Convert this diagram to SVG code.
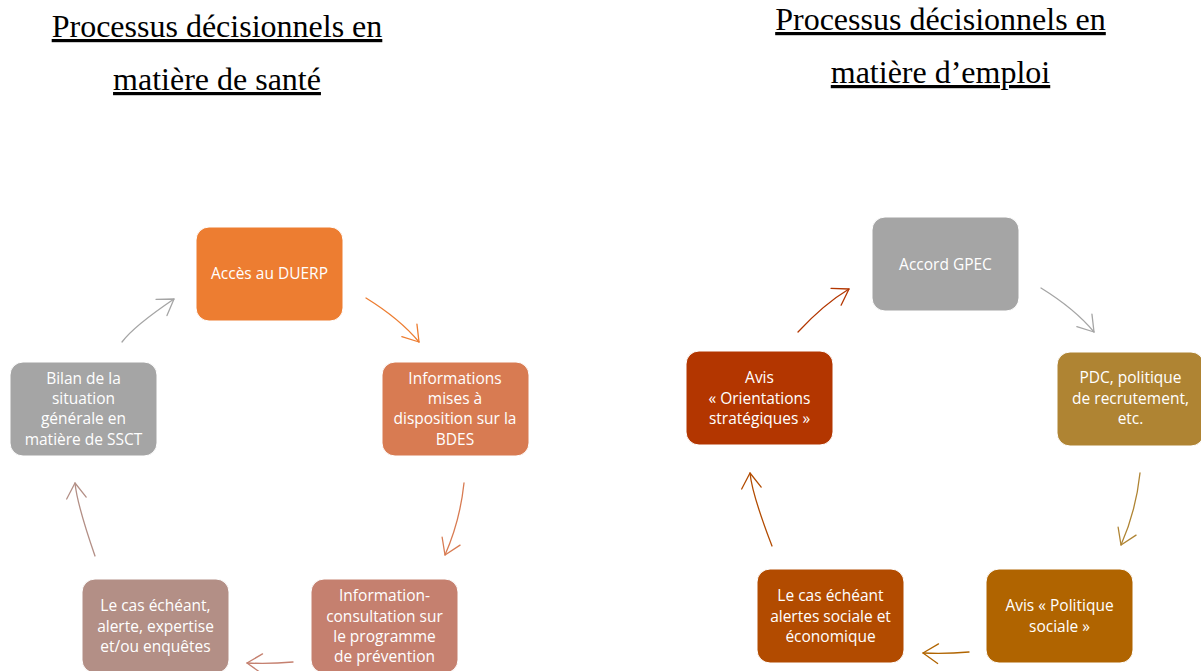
<svg xmlns="http://www.w3.org/2000/svg" width="1201" height="671" viewBox="0 0 1201 671">
<style>
.title{font-family:"Liberation Serif","Times New Roman",serif;font-size:32px;fill:#000;text-anchor:middle;text-decoration:underline}
.box{stroke:#fff;stroke-width:1}
.lbl{font-family:"Open Sans","Noto Sans",sans-serif;font-size:15.5px;fill:#fff;text-anchor:middle}
.arc{fill:none;stroke-width:1.3;stroke-linecap:round}
.head{fill:none;stroke-width:1.3;stroke-linecap:round;stroke-linejoin:round}
</style>
<defs>
<marker id="m-or" markerUnits="userSpaceOnUse" viewBox="-17 -11 19 22" refX="0" refY="0" markerWidth="19" markerHeight="22" orient="auto"><path class="head" stroke="#ED7D31" d="M-15.1,-9.8 L0,0 L-15.1,9.8"/></marker>
<marker id="m-inf" markerUnits="userSpaceOnUse" viewBox="-17 -11 19 22" refX="0" refY="0" markerWidth="19" markerHeight="22" orient="auto"><path class="head" stroke="#D87B52" d="M-15.1,-9.8 L0,0 L-15.1,9.8"/></marker>
<marker id="m-ic" markerUnits="userSpaceOnUse" viewBox="-17 -11 19 22" refX="0" refY="0" markerWidth="19" markerHeight="22" orient="auto"><path class="head" stroke="#C5806F" d="M-15.1,-9.8 L0,0 L-15.1,9.8"/></marker>
<marker id="m-lc" markerUnits="userSpaceOnUse" viewBox="-17 -11 19 22" refX="0" refY="0" markerWidth="19" markerHeight="22" orient="auto"><path class="head" stroke="#B38F86" d="M-15.1,-9.8 L0,0 L-15.1,9.8"/></marker>
<marker id="m-gr" markerUnits="userSpaceOnUse" viewBox="-17 -11 19 22" refX="0" refY="0" markerWidth="19" markerHeight="22" orient="auto"><path class="head" stroke="#A5A5A5" d="M-15.1,-9.8 L0,0 L-15.1,9.8"/></marker>
<marker id="m-pdc" markerUnits="userSpaceOnUse" viewBox="-17 -11 19 22" refX="0" refY="0" markerWidth="19" markerHeight="22" orient="auto"><path class="head" stroke="#AF8433" d="M-15.1,-9.8 L0,0 L-15.1,9.8"/></marker>
<marker id="m-pol" markerUnits="userSpaceOnUse" viewBox="-17 -11 19 22" refX="0" refY="0" markerWidth="19" markerHeight="22" orient="auto"><path class="head" stroke="#B06400" d="M-15.1,-9.8 L0,0 L-15.1,9.8"/></marker>
<marker id="m-lcr" markerUnits="userSpaceOnUse" viewBox="-17 -11 19 22" refX="0" refY="0" markerWidth="19" markerHeight="22" orient="auto"><path class="head" stroke="#B24B00" d="M-15.1,-9.8 L0,0 L-15.1,9.8"/></marker>
<marker id="m-ori" markerUnits="userSpaceOnUse" viewBox="-17 -11 19 22" refX="0" refY="0" markerWidth="19" markerHeight="22" orient="auto"><path class="head" stroke="#B33600" d="M-15.1,-9.8 L0,0 L-15.1,9.8"/></marker>
</defs>
<rect x="0" y="0" width="1201" height="671" fill="#fff"/>

<g id="titles">
<text class="title" x="217" y="37">Processus décisionnels en</text>
<text class="title" x="217" y="90">matière de santé</text>
<text class="title" x="940.5" y="30">Processus décisionnels en</text>
<text class="title" x="940.5" y="83">matière d’emploi</text>
</g>

<g id="connectors">
<path class="arc" stroke="#ED7D31" marker-end="url(#m-or)" d="M366,298 Q400,319 419,342"/>
<path class="arc" stroke="#D87B52" marker-end="url(#m-inf)" d="M464,483 Q460,521 445,555"/>
<path class="arc" stroke="#C5806F" marker-end="url(#m-ic)" d="M293,662 Q270,664 247,663"/>
<path class="arc" stroke="#B38F86" marker-end="url(#m-lc)" d="M95,556 Q77,504 75,483"/>
<path class="arc" stroke="#A5A5A5" marker-end="url(#m-gr)" d="M122,342 Q134,326 174,299"/>
<path class="arc" stroke="#A5A5A5" marker-end="url(#m-gr)" d="M1041,288 Q1075,309 1094,332"/>
<path class="arc" stroke="#AF8433" marker-end="url(#m-pdc)" d="M1140,473 Q1136,511 1121,545"/>
<path class="arc" stroke="#B06400" marker-end="url(#m-pol)" d="M969,652 Q946,654 923,653"/>
<path class="arc" stroke="#B24B00" marker-end="url(#m-lcr)" d="M772,546 Q752,494 750,473"/>
<path class="arc" stroke="#B33600" marker-end="url(#m-ori)" d="M798,332 Q824,304 849,289"/>
</g>

<g id="n-acces">
<rect class="box" x="196" y="227" width="147" height="94" rx="13" fill="#ED7D31"/>
<text class="lbl" x="269.5" y="279">Accès au DUERP</text>
</g>
<g id="n-informations">
<rect class="box" x="382" y="362" width="147" height="94" rx="13" fill="#D87B52"/>
<text class="lbl" x="455" y="383.5">Informations</text>
<text class="lbl" x="455" y="404">mises à</text>
<text class="lbl" x="455" y="424">disposition sur la</text>
<text class="lbl" x="455" y="444.5">BDES</text>
</g>
<g id="n-infoconsult">
<rect class="box" x="311" y="579" width="147" height="94" rx="13" fill="#C5806F"/>
<text class="lbl" x="384.5" y="601">Information-</text>
<text class="lbl" x="384.5" y="621.5">consultation sur</text>
<text class="lbl" x="384.5" y="641.5">le programme</text>
<text class="lbl" x="384.5" y="662">de prévention</text>
</g>
<g id="n-lecas-sante">
<rect class="box" x="82" y="579" width="147" height="94" rx="13" fill="#B38F86"/>
<text class="lbl" x="155.5" y="611">Le cas échéant,</text>
<text class="lbl" x="155.5" y="631.5">alerte, expertise</text>
<text class="lbl" x="155.5" y="652">et/ou enquêtes</text>
</g>
<g id="n-bilan">
<rect class="box" x="10" y="362" width="147" height="94" rx="13" fill="#A5A5A5"/>
<text class="lbl" x="83.5" y="383.5">Bilan de la</text>
<text class="lbl" x="83.5" y="404">situation</text>
<text class="lbl" x="83.5" y="424">générale en</text>
<text class="lbl" x="83.5" y="444.5">matière de SSCT</text>
</g>

<g id="n-gpec">
<rect class="box" x="872" y="217" width="147" height="94" rx="13" fill="#A5A5A5"/>
<text class="lbl" x="945.5" y="269.5">Accord GPEC</text>
</g>
<g id="n-pdc">
<rect class="box" x="1057" y="352" width="147" height="94" rx="13" fill="#AF8433"/>
<text class="lbl" x="1130.5" y="383">PDC, politique</text>
<text class="lbl" x="1130.5" y="403.5">de recrutement,</text>
<text class="lbl" x="1130.5" y="424">etc.</text>
</g>
<g id="n-politique">
<rect class="box" x="986" y="569" width="147" height="94" rx="13" fill="#B06400"/>
<text class="lbl" x="1059.5" y="611">Avis « Politique</text>
<text class="lbl" x="1059.5" y="631.5">sociale »</text>
</g>
<g id="n-lecas-emploi">
<rect class="box" x="757" y="569" width="147" height="94" rx="13" fill="#B24B00"/>
<text class="lbl" x="830.5" y="601">Le cas échéant</text>
<text class="lbl" x="830.5" y="621.5">alertes sociale et</text>
<text class="lbl" x="830.5" y="642">économique</text>
</g>
<g id="n-orientations">
<rect class="box" x="686" y="351" width="147" height="94" rx="13" fill="#B33600"/>
<text class="lbl" x="759.5" y="383">Avis</text>
<text class="lbl" x="759.5" y="403.5">« Orientations</text>
<text class="lbl" x="759.5" y="424">stratégiques »</text>
</g>
</svg>
